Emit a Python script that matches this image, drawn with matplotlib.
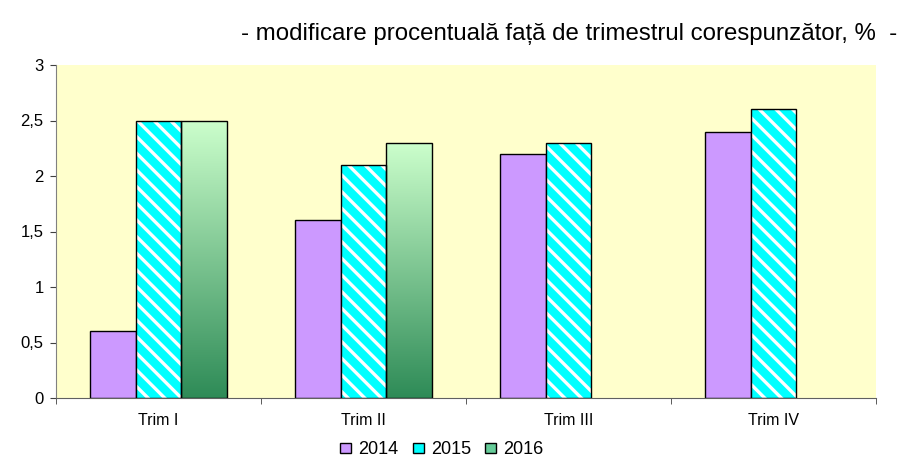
import matplotlib.pyplot as plt
import matplotlib.colors as mcolors
import numpy as np
from matplotlib.patches import Patch

plt.rcParams["font.family"] = ["Liberation Sans", "DejaVu Sans"]
plt.rcParams["hatch.linewidth"] = 2.4

categories = ["Trim I", "Trim II", "Trim III", "Trim IV"]
years = ["2014", "2015", "2016"]
values_2014 = [0.6, 1.6, 2.2, 2.4]
values_2015 = [2.5, 2.1, 2.3, 2.6]
values_2016 = [2.5, 2.3, np.nan, np.nan]
y_ticks = [0, 0.5, 1, 1.5, 2, 2.5, 3]
y_tick_labels = ["0", "0,5", "1", "1,5", "2", "2,5", "3"]

fig = plt.figure(figsize=(9.02, 4.57), dpi=100)
ax = fig.add_axes([56 / 902, 1 - 398 / 457, 820 / 902, 333 / 457])
ax.set_facecolor("#FFFFCC")

x = np.arange(len(categories))
width = 0.223

# 2014 - plain purple
ax.bar(x - width, values_2014, width, color="#CC99FF", edgecolor="black", linewidth=1.0, zorder=2)

# 2015 - cyan with white diagonal stripes
ax.bar(x, values_2015, width, color="#00FFFF", edgecolor="white", hatch="\\\\", linewidth=0, zorder=2)
ax.bar(x, values_2015, width, fill=False, edgecolor="black", linewidth=1.0, zorder=3)

# 2016 - vertical green gradient per bar
grad_cmap = mcolors.LinearSegmentedColormap.from_list("grn", ["#2E8B57", "#CCFFCC"])
gradient = np.linspace(0, 1, 256).reshape(-1, 1)
bars_2016 = ax.bar(x + width, values_2016, width, color="none", edgecolor="black", linewidth=1.0, zorder=3)
for bar in bars_2016:
    h = bar.get_height()
    if np.isnan(h):
        continue
    x0 = bar.get_x()
    img = ax.imshow(gradient, cmap=grad_cmap, origin="lower", aspect="auto",
                    extent=(x0, x0 + bar.get_width(), 0, h), zorder=2)
    img.set_clip_path(bar)

ax.set_xlim(-0.5, len(categories) - 0.5)
ax.set_ylim(0, 3)
ax.set_yticks(y_ticks)
ax.set_yticklabels(y_tick_labels)
ax.set_xticks(np.arange(len(categories) + 1) - 0.5, minor=True)
ax.set_xticks(x)
ax.set_xticklabels(categories)
ax.tick_params(axis="x", which="major", length=0, labelsize=11.5, pad=11)
ax.tick_params(axis="x", which="minor", length=4, color="#404040")
ax.tick_params(axis="y", length=4, labelsize=12, color="#404040", pad=5)

for side in ["top", "right"]:
    ax.spines[side].set_visible(False)
ax.spines["left"].set_color("#808080")
ax.spines["bottom"].set_color("#606060")

fig.text(0.995, 0.926, "- modificare procentuală față de trimestrul corespunzător, %  -",
         ha="right", va="center", fontsize=17.3)

handles = [
    Patch(facecolor="#CC99FF", edgecolor="black", label=years[0]),
    Patch(facecolor="#00FFFF", edgecolor="black", label=years[1]),
    Patch(facecolor="#66CC99", edgecolor="black", label=years[2]),
]
fig.legend(handles=handles, loc="center", bbox_to_anchor=(0.49, 0.016), ncol=3,
           frameon=False, fontsize=13, handlelength=0.6, handleheight=0.5,
           handletextpad=0.4, columnspacing=0.8)

fig.savefig("out.png", dpi=100)
